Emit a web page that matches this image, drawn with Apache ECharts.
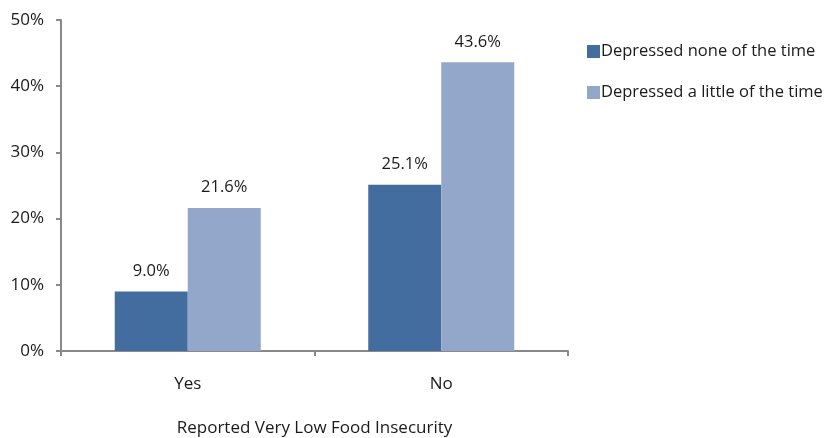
<!DOCTYPE html>
<html>
<head>
<meta charset="utf-8">
<script src="https://cdn.jsdelivr.net/npm/echarts@6/dist/echarts.min.js"></script>
<style>
html,body{margin:0;padding:0;background:#fff;}
#chart{width:828px;height:438px;}
</style>
</head>
<body>
<div id="chart"></div>
<script>
const categories = ['Yes', 'No'];
const noneOfTheTime = [9.0, 25.1];
const littleOfTheTime = [21.6, 43.6];
const seriesNames = ['Depressed none of the time', 'Depressed a little of the time'];
const axisTitle = 'Reported Very Low Food Insecurity';

const FONT = '"Open Sans", sans-serif';
const TEXT = '#1a1a1a';
const AXIS = '#898989';

const chart = echarts.init(document.getElementById('chart'), null, {renderer: 'canvas'});

const labelCfg = {
  show: true,
  position: 'top',
  distance: 12,
  formatter: p => p.value.toFixed(1) + '%',
  color: TEXT,
  fontFamily: FONT,
  fontSize: 16.5
};

chart.setOption({
  animation: false,
  backgroundColor: '#fff',
  grid: {left: 61, right: 260, top: 20, bottom: 87, containLabel: false, outerBoundsMode: 'none'},
  legend: {
    orient: 'vertical',
    left: 582,
    top: 38,
    itemWidth: 13,
    itemHeight: 13,
    itemGap: 24,
    icon: 'rect',
    textStyle: {color: TEXT, fontFamily: FONT, fontSize: 16.5, padding: [0, 0, 0, -4]},
    data: seriesNames
  },
  xAxis: {
    type: 'category',
    data: categories,
    name: axisTitle,
    nameLocation: 'middle',
    nameGap: 69,
    nameTextStyle: {color: TEXT, fontFamily: FONT, fontSize: 17},
    axisLine: {lineStyle: {color: AXIS, width: 2}},
    axisTick: {show: true, length: 5, lineStyle: {color: AXIS, width: 2}},
    axisLabel: {color: TEXT, fontFamily: FONT, fontSize: 17, margin: 25}
  },
  yAxis: {
    type: 'value',
    min: 0,
    max: 50,
    interval: 10,
    axisLine: {show: true, lineStyle: {color: AXIS, width: 2}},
    axisTick: {show: true, length: 5, lineStyle: {color: AXIS, width: 2}},
    splitLine: {show: false},
    axisLabel: {color: TEXT, fontFamily: FONT, fontSize: 17, margin: 17, formatter: v => v + '%'}
  },
  series: [
    {
      name: seriesNames[0],
      type: 'bar',
      data: noneOfTheTime,
      barWidth: 73,
      barGap: '0%',
      itemStyle: {color: '#436D9F'},
      label: labelCfg
    },
    {
      name: seriesNames[1],
      type: 'bar',
      data: littleOfTheTime,
      barWidth: 73,
      itemStyle: {color: '#93A7CA'},
      label: labelCfg
    }
  ]
});
</script>
</body>
</html>
